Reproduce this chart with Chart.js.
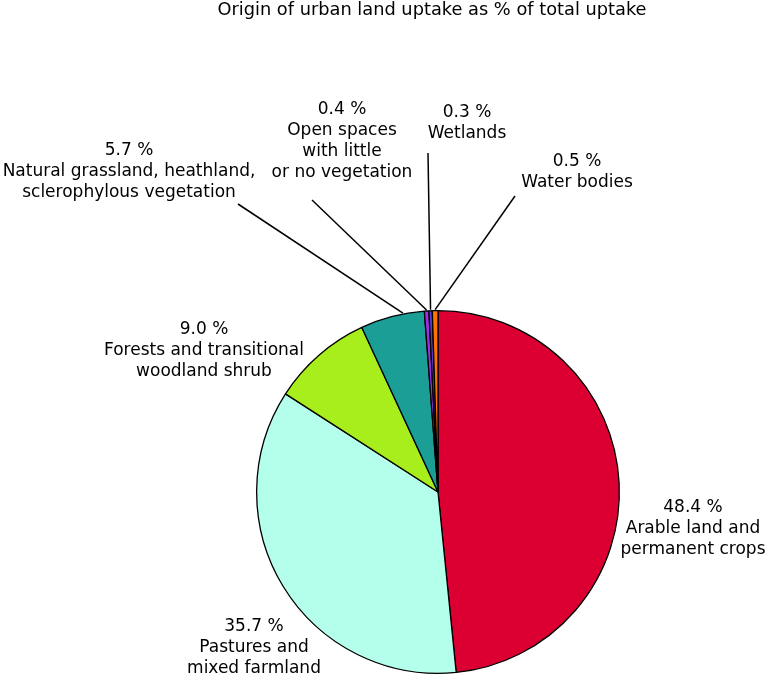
<!DOCTYPE html>
<html>
<head>
<meta charset="utf-8">
<script src="https://cdn.jsdelivr.net/npm/chart.js@4"></script>
<style>
  html, body { margin: 0; padding: 0; background: #fff; }
  #wrap { width: 768px; height: 678px; }
</style>
</head>
<body>
<div id="wrap"><canvas id="chart"></canvas></div>
<script>
const chartTitle = "Origin of urban land uptake as % of total uptake";

const categories = [
    ["Arable land and", "permanent crops"],
    ["Pastures and", "mixed farmland"],
    ["Forests and transitional", "woodland shrub"],
    ["Natural grassland, heathland,", "sclerophylous vegetation"],
    ["Open spaces", "with little", "or no vegetation"],
    ["Wetlands"],
    ["Water bodies"],
];
const shares = [48.4, 35.7, 9.0, 5.7, 0.4, 0.3, 0.5];
const sliceColors = ["#dc0032", "#b3ffeb", "#a8ee1c", "#1a9e96", "#9b30e8", "#5a3ad0", "#ff7400"];

// where each label block sits (centre x, first line y), where its leader line starts
// and how far along the slice (0..1) the line touches the pie
const labelLayout = [
    { x: 693, y: 508 },
    { x: 254, y: 626.5 },
    { x: 204, y: 329.5 },
    { x: 129, y: 151, from: [238, 204], at: 0.67 },
    { x: 342, y: 110, from: [312, 200], at: 0.5 },
    { x: 467, y: 112.5, from: [428, 153], at: 0.5 },
    { x: 577, y: 162, from: [515, 196], at: 0.5 },
];

const labelPlugin = {
    id: "labels",
    afterDraw(chart) {
        const ctx = chart.ctx;
        const arcs = chart.getDatasetMeta(0).data;
        ctx.save();
        ctx.fillStyle = "#000";
        ctx.textAlign = "center";
        ctx.textBaseline = "middle";

        ctx.font = "17.8px 'DejaVu Sans'";
        ctx.fillText(chartTitle, 432, 10);

        ctx.font = "17px 'DejaVu Sans'";
        labelLayout.forEach((pos, i) => {
            const lines = [shares[i].toFixed(1) + " %"].concat(categories[i]);
            lines.forEach((t, k) => ctx.fillText(t, pos.x, pos.y + k * 21));

            if (pos.from) {
                const arc = arcs[i];
                const a = arc.startAngle + (arc.endAngle - arc.startAngle) * pos.at;
                const r = arc.outerRadius + 1;
                ctx.beginPath();
                ctx.strokeStyle = "#000";
                ctx.lineWidth = 1.5;
                ctx.moveTo(pos.from[0], pos.from[1]);
                ctx.lineTo(arc.x + Math.cos(a) * r, arc.y + Math.sin(a) * r);
                ctx.stroke();
            }
        });
        ctx.restore();
    },
};

const ctx = document.getElementById("chart").getContext("2d");
new Chart(ctx, {
    type: "pie",
    data: {
        labels: categories.map((c) => c.join(" ")),
        datasets: [
            {
                data: shares,
                backgroundColor: sliceColors,
                borderColor: "#000",
                borderWidth: 1.3,
            },
        ],
    },
    options: {
        responsive: true,
        maintainAspectRatio: false,
        animation: false,
        layout: { padding: { left: 256, right: 148, top: 310, bottom: 4 } },
        plugins: {
            legend: { display: false },
            tooltip: { enabled: false },
        },
    },
    plugins: [labelPlugin],
});
</script>
</body>
</html>
